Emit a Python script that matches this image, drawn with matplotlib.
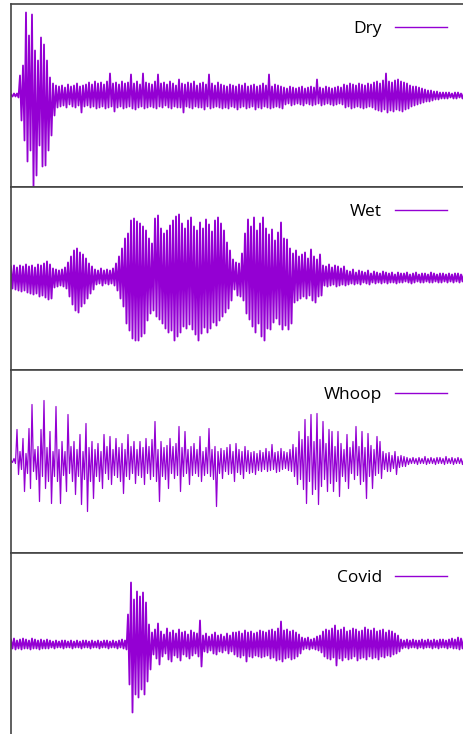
import numpy as np
import matplotlib
matplotlib.use("Agg")
import matplotlib.pyplot as plt

plt.rcParams['font.family'] = ['Open Sans', 'DejaVu Sans']

# Peak amplitudes, one pair per short time slice
# (positive peak, negative peak), arbitrary units.
dry_hi = [1, 2, 2, 20, 30, 83, 60, 81, 45, 35, 58, 51, 35, 18, 12, 10,
          9, 10, 8, 11, 9, 10, 12, 9, 10, 11,
          13, 11, 14, 12, 13, 11, 14, 22,
          12, 13, 11, 14, 12, 13, 21, 12, 14, 11, 22, 13,
          12, 11, 14, 21, 12, 13, 11, 14, 12, 10,
          16, 12, 11, 13, 12, 14, 10, 12, 13, 11, 21, 12, 10, 13, 11,
          10, 9, 11, 10, 9, 11, 10, 12, 9, 10, 11, 9, 10, 12, 10, 21, 9, 11, 10, 9,
          8, 7, 9, 8, 7, 8, 9, 7, 8, 9, 8, 16, 8, 7, 9, 8, 7, 8, 9, 8,
          11, 10, 12, 11, 10, 12, 11, 10, 12, 11,
          13, 14, 12, 15, 22, 14, 13, 15, 16, 14, 13, 12,
          10, 9, 9, 8, 7, 6, 5, 5, 4,
          4, 3, 3, 3, 3, 2, 3, 3, 2, 3]
dry_lo = [1, 1, 2, 25, 45, 66, 55, 91, 80, 50, 71, 70, 55, 40, 20, 12,
          11, 10, 12, 9, 11, 12, 10, 17, 11, 10,
          12, 11, 13, 12, 11, 13, 12, 11,
          16, 12, 11, 13, 12, 11, 13, 14, 12, 11, 13, 12,
          11, 12, 13, 11, 12, 10, 12, 13, 11, 12,
          12, 17, 11, 12, 13, 11, 12, 12, 14, 11, 13, 12, 11, 12, 13,
          12, 13, 11, 12, 14, 12, 11, 13, 12, 11, 14, 12, 13, 11, 12, 13, 12, 11, 12, 13,
          9, 8, 10, 9, 8, 9, 10, 8, 9, 10, 9, 8, 10, 9, 8, 9, 10, 9, 8, 9,
          12, 11, 13, 12, 11, 12, 13, 12, 11, 12,
          14, 15, 16, 14, 17, 15, 16, 14, 15, 16, 14, 13,
          11, 10, 9, 8, 7, 6, 6, 5, 4,
          4, 3, 3, 3, 2, 3, 3, 2, 3, 3]

wet_hi = [12, 13, 11, 13, 12, 14, 12, 13, 11, 14, 13, 15, 17, 14,
          10, 9, 8, 9, 11,
          16, 22, 28, 30, 26, 24, 20, 15, 12,
          9, 8, 10, 8, 9, 8, 10,
          15, 22, 30, 40, 45, 58, 60, 57, 55, 52, 48, 40, 35,
          60, 63, 50, 45, 48, 53, 58, 62, 64, 55, 50, 58, 61, 52, 48, 56, 50, 59,
          54, 47, 58, 61, 55, 48, 36, 28, 19,
          16, 15, 25,
          45, 59, 52, 61, 48, 55, 61, 50, 44, 49, 38, 46, 56, 40, 39, 30, 25, 28, 22, 24,
          26, 20, 29, 22, 19, 24,
          13, 12, 14, 11, 13, 12, 10, 12,
          8, 7, 9, 6, 8, 7, 6, 8, 5, 7, 6, 5, 7, 6, 5, 6, 4, 6, 5, 5,
          6, 4, 5, 6, 4, 5, 5, 4, 6, 5, 4, 5, 5, 4, 5, 4, 5, 5, 4, 5]
wet_lo = [10, 11, 12, 13, 12, 14, 15, 16, 15, 18, 17, 19, 21, 20,
          9, 8, 7, 8, 10,
          18, 26, 32, 34, 28, 25, 20, 15, 11,
          6, 5, 7, 5, 6, 5, 7,
          12, 20, 28, 45, 52, 60, 62, 62, 58, 55, 42, 35, 32,
          38, 41, 45, 50, 54, 52, 62, 58, 54, 48, 50, 46, 51, 56, 62, 55, 49, 54,
          50, 44, 47, 42, 38, 34, 30, 22, 11,
          17, 18, 22,
          35, 41, 48, 54, 45, 58, 62, 50, 51, 44, 40, 46, 51, 47, 51, 45, 24, 22, 20, 18,
          20, 17, 22, 24, 18, 17,
          7, 8, 7, 6, 8, 7, 6, 7,
          6, 5, 6, 5, 6, 4, 5, 6, 4, 5, 4, 5, 4, 5, 4, 4, 5, 4, 4, 3,
          4, 5, 4, 3, 4, 4, 3, 4, 4, 3, 4, 4, 3, 4, 3, 4, 3, 4, 3, 4]

whoop_hi = [1, 3, 32, 10, 23, 8, 33, 57, 12, 15, 32, 61, 14, 30, 10, 55, 12, 20, 10, 47,
            15, 20, 12, 27, 10, 38, 14, 20, 12, 18, 10, 27, 15, 25, 12, 23, 14, 18, 12, 27,
            15, 20, 12, 20, 14, 23, 15, 22, 40, 12, 20, 14, 16, 23, 15, 18, 35, 14, 30, 12,
            15, 18, 12, 25, 10, 14, 33, 12, 15, 10, 13, 11, 14, 17, 10, 18, 12, 10, 15, 11,
            9, 10, 8, 11, 9, 13, 10, 17, 9, 10, 13, 10, 9, 12, 17, 14, 30, 22, 42, 25,
            47, 20, 48, 22, 40, 18, 32, 30, 15, 30, 18, 12, 27, 14, 20, 35, 15, 30, 14, 28,
            16, 12, 25, 20, 10, 8, 9, 6, 10, 5, 6, 5, 4, 3,
            4, 3, 4, 3, 5, 3, 4, 3, 4, 4, 3, 5, 3, 4, 3, 4, 3, 4]
whoop_lo = [1, 2, 13, 8, 30, 12, 27, 10, 18, 40, 15, 27, 20, 42, 15, 20, 42, 14, 30, 12,
            20, 33, 15, 43, 18, 50, 20, 37, 15, 20, 27, 12, 18, 23, 14, 16, 20, 32, 15, 18,
            12, 22, 14, 16, 23, 12, 18, 15, 20, 40, 15, 18, 27, 12, 17, 14, 30, 15, 12, 23,
            14, 12, 15, 20, 14, 12, 15, 18, 45, 12, 17, 10, 13, 12, 20, 11, 13, 17, 10, 12,
            11, 13, 9, 10, 8, 10, 9, 8, 11, 10, 8, 7, 9, 10, 15, 23, 18, 28, 42, 20,
            33, 28, 43, 25, 18, 30, 22, 30, 20, 35, 15, 20, 27, 12, 18, 14, 23, 20, 37, 15,
            27, 14, 12, 17, 8, 10, 10, 7, 13, 6, 5, 5, 3, 2,
            2, 3, 2, 2, 3, 2, 2, 3, 2, 2, 3, 2, 2, 3, 2, 2, 3, 2]

covid_hi = [5, 6, 4, 5, 6, 5, 4, 6, 5, 4, 5, 4, 5,
            4, 3, 4, 3, 4, 4, 3, 4, 3, 4, 3, 4, 4, 3, 4, 3, 4, 3, 4, 4, 3, 4, 3, 4, 5, 4,
            30, 62, 45, 53, 48, 52, 42, 20,
            12, 15, 21, 13, 10, 16, 12, 14, 11, 15, 12, 13, 10, 14, 12, 11,
            24,
            9, 11, 8, 10, 12, 9, 10, 8, 11, 9, 12,
            12, 13, 11, 14, 12, 13, 11, 12, 14, 13, 12,
            14, 15, 13, 16, 23, 14, 15, 13, 14, 12, 10,
            7, 6, 7, 5, 6, 8, 9,
            13, 15, 14, 16, 19, 14, 15, 17, 13, 14, 16, 15, 13, 14, 17, 15, 14, 16, 13, 14,
            15, 12, 14, 13, 11, 9,
            5, 4, 5, 4, 5, 4, 4, 5, 4, 5, 4, 5, 4, 5, 5, 4, 5, 6, 5, 7, 6, 7]
covid_lo = [4, 5, 4, 5, 4, 4, 5, 4, 4, 5, 4, 4, 4,
            3, 4, 3, 3, 4, 3, 3, 4, 3, 3, 4, 3, 3, 4, 3, 3, 4, 3, 3, 4, 3, 3, 4, 3, 4, 5,
            40, 68, 50, 53, 45, 50, 37, 25,
            10, 14, 20, 12, 9, 15, 17, 11, 13, 16, 10, 12, 14, 11, 9, 12,
            22,
            7, 8, 6, 9, 10, 7, 8, 6, 9, 7, 10,
            12, 13, 11, 17, 12, 13, 11, 12, 13, 12, 11,
            14, 13, 16, 15, 17, 14, 13, 15, 14, 12, 9,
            5, 4, 5, 4, 5, 6, 8,
            12, 14, 15, 13, 21, 14, 16, 13, 15, 14, 12, 16, 14, 13, 15, 12, 14, 13, 15, 12,
            13, 11, 12, 10, 9, 7,
            4, 3, 4, 3, 3, 4, 3, 4, 3, 3, 4, 3, 4, 3, 3, 4, 3, 4, 4, 5, 4, 5]

labels = ['Dry', 'Wet', 'Whoop', 'Covid']
series = [(dry_hi, dry_lo), (wet_hi, wet_lo), (whoop_hi, whoop_lo), (covid_hi, covid_lo)]
line_widths = [1.3, 1.35, 0.9, 1.3]

color = '#9400d3'
spine_color = '#444444'

fig = plt.figure(figsize=(4.64, 7.34), dpi=100)
W, H = 464, 734
left_px, top_px, panel_px = 11, 4, 183

for i, (label, (hi, lo)) in enumerate(zip(labels, series)):
    top = top_px + i * panel_px
    ax = fig.add_axes([left_px / W, 1 - (top + panel_px) / H, 1 - left_px / W, panel_px / H])
    # alternate positive and negative peaks into one trace
    y = np.empty(2 * len(hi))
    y[0::2] = hi
    y[1::2] = -np.asarray(lo)
    ax.plot(np.arange(len(y)), y, color=color, lw=line_widths[i], label=label)
    ax.set_xlim(0, len(y) - 2)
    ax.set_ylim(-91.5, 91.5)
    ax.set_xticks([])
    ax.set_yticks([])
    ax.spines['right'].set_visible(False)
    for s in ['top', 'bottom', 'left']:
        ax.spines[s].set_color(spine_color)
        ax.spines[s].set_linewidth(1.2)
    leg = ax.legend(loc='upper right', bbox_to_anchor=(1 - 10 / 453, 1 - 10 / panel_px),
                    borderaxespad=0, frameon=False, markerfirst=False, fontsize=12.5,
                    handlelength=3.0, handletextpad=0.75)
    for h in leg.get_lines():
        h.set_linewidth(1.0)

fig.savefig('out.png', dpi=100)
